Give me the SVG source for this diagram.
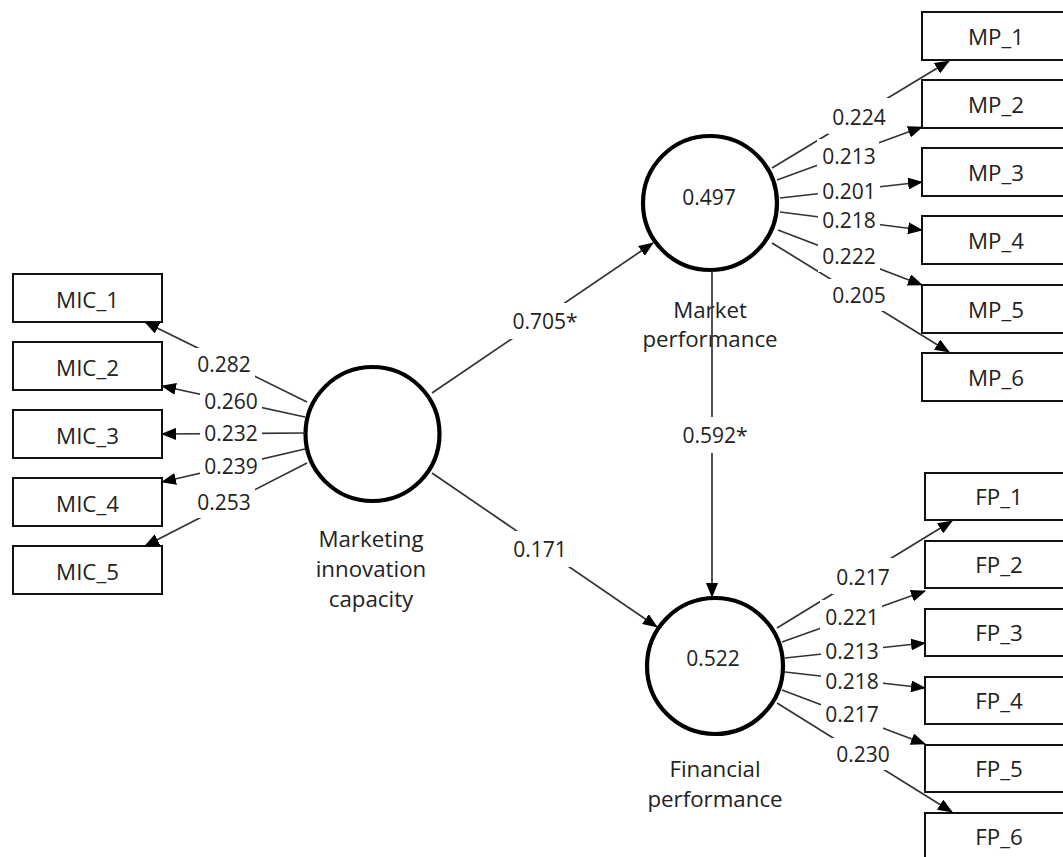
<svg xmlns="http://www.w3.org/2000/svg" width="1063" height="857" viewBox="0 0 1063 857">
<style>
.bg{fill:#fff}
.box{fill:#fff;stroke:#111;stroke-width:2}
.lv{fill:#fff;stroke:#000;stroke-width:4.2}
.t{font-family:"Open Sans","Noto Sans","DejaVu Sans",sans-serif;font-size:21px;fill:#222;text-anchor:middle}
.n{font-size:22.3px}
.c{stroke:#333;stroke-width:1.7;fill:none;marker-end:url(#ah)}
.lb{fill:#fff}
</style>
<defs>
<marker id="ah" markerWidth="15" markerHeight="12" refX="14" refY="6" orient="auto" markerUnits="userSpaceOnUse">
<path d="M0,0 L15,6 L0,12 z" fill="#000"/>
</marker>
</defs>
<rect class="bg" x="0" y="0" width="1063" height="857"/>

<g id="MIC_1"><rect class="box" x="13" y="274" width="149" height="48"/><text class="t n" x="87.5" y="307.5">MIC_1</text></g>
<g id="MIC_2"><rect class="box" x="13" y="342" width="149" height="48"/><text class="t n" x="87.5" y="375.5">MIC_2</text></g>
<g id="MIC_3"><rect class="box" x="13" y="410" width="149" height="48"/><text class="t n" x="87.5" y="443.5">MIC_3</text></g>
<g id="MIC_4"><rect class="box" x="13" y="478" width="149" height="48"/><text class="t n" x="87.5" y="511.5">MIC_4</text></g>
<g id="MIC_5"><rect class="box" x="13" y="546" width="149" height="48"/><text class="t n" x="87.5" y="579.5">MIC_5</text></g>

<g id="MP_1"><rect class="box" x="922" y="12" width="149" height="48"/><text class="t n" x="996" y="45">MP_1</text></g>
<g id="MP_2"><rect class="box" x="922" y="80" width="149" height="48"/><text class="t n" x="996" y="113">MP_2</text></g>
<g id="MP_3"><rect class="box" x="922" y="148" width="149" height="48"/><text class="t n" x="996" y="181">MP_3</text></g>
<g id="MP_4"><rect class="box" x="922" y="216" width="149" height="48"/><text class="t n" x="996" y="249">MP_4</text></g>
<g id="MP_5"><rect class="box" x="922" y="285" width="149" height="48"/><text class="t n" x="996" y="318">MP_5</text></g>
<g id="MP_6"><rect class="box" x="922" y="353" width="149" height="48"/><text class="t n" x="996" y="386">MP_6</text></g>

<g id="FP_1"><rect class="box" x="925" y="473" width="149" height="47"/><text class="t n" x="999" y="505">FP_1</text></g>
<g id="FP_2"><rect class="box" x="925" y="541" width="149" height="47"/><text class="t n" x="999" y="573">FP_2</text></g>
<g id="FP_3"><rect class="box" x="925" y="609" width="149" height="47"/><text class="t n" x="999" y="641">FP_3</text></g>
<g id="FP_4"><rect class="box" x="925" y="677" width="149" height="47"/><text class="t n" x="999" y="709">FP_4</text></g>
<g id="FP_5"><rect class="box" x="925" y="745" width="149" height="47"/><text class="t n" x="999" y="777">FP_5</text></g>
<g id="FP_6"><rect class="box" x="925" y="813" width="149" height="47"/><text class="t n" x="999" y="845">FP_6</text></g>

<g id="MIC">
<circle class="lv" cx="372.5" cy="434" r="67"/>
<text class="t n" x="371" y="547">Marketing</text>
<text class="t n" x="371" y="577">innovation</text>
<text class="t n" x="371" y="607">capacity</text>
</g>
<g id="MP">
<circle class="lv" cx="710" cy="203" r="67"/>
<text class="t" x="709" y="205">0.497</text>
<text class="t n" x="710" y="318">Market</text>
<text class="t n" x="710" y="347">performance</text>
</g>
<g id="FP">
<circle class="lv" cx="715" cy="666" r="68"/>
<text class="t" x="713" y="666">0.522</text>
<text class="t n" x="715" y="777">Financial</text>
<text class="t n" x="715" y="807">performance</text>
</g>

<g id="connectors">
<line class="c" x1="307" y1="402" x2="145" y2="322"/>
<line class="c" x1="305" y1="417" x2="162" y2="386"/>
<line class="c" x1="305" y1="433" x2="162" y2="434"/>
<line class="c" x1="305" y1="449" x2="162" y2="482"/>
<line class="c" x1="307" y1="463" x2="145" y2="546"/>

<line class="c" x1="772" y1="168" x2="949" y2="61"/>
<line class="c" x1="777" y1="180" x2="922" y2="127"/>
<line class="c" x1="780" y1="198" x2="922" y2="182"/>
<line class="c" x1="780" y1="212" x2="922" y2="230"/>
<line class="c" x1="778" y1="230" x2="922" y2="285"/>
<line class="c" x1="772" y1="243" x2="949" y2="352"/>

<line class="c" x1="777" y1="628" x2="952" y2="521"/>
<line class="c" x1="782" y1="642" x2="925" y2="591"/>
<line class="c" x1="785" y1="658" x2="925" y2="643"/>
<line class="c" x1="785" y1="672" x2="925" y2="688"/>
<line class="c" x1="782" y1="690" x2="925" y2="744"/>
<line class="c" x1="777" y1="703" x2="952" y2="812"/>

<line class="c" x1="432" y1="393" x2="653" y2="243"/>
<line class="c" x1="432" y1="473" x2="657" y2="627"/>
<line class="c" x1="712" y1="271" x2="712" y2="597"/>

<g id="labels">
<rect class="lb" x="193" y="348" width="62" height="32"/><text class="t" x="224" y="371.5">0.282</text>
<rect class="lb" x="200" y="385" width="62" height="32"/><text class="t" x="231" y="408.5">0.260</text>
<rect class="lb" x="200" y="417" width="62" height="32"/><text class="t" x="231" y="440.5">0.232</text>
<rect class="lb" x="200" y="451" width="62" height="32"/><text class="t" x="231" y="474">0.239</text>
<rect class="lb" x="193" y="486" width="62" height="32"/><text class="t" x="224" y="509.5">0.253</text>

<rect class="lb" x="828" y="98" width="62" height="36"/><text class="t" x="859" y="125">0.224</text>
<rect class="lb" x="817" y="139" width="62" height="33"/><text class="t" x="849" y="163.5">0.213</text>
<rect class="lb" x="818" y="175" width="62" height="32"/><text class="t" x="849" y="198.5">0.201</text>
<rect class="lb" x="818" y="205" width="62" height="32"/><text class="t" x="849" y="228">0.218</text>
<rect class="lb" x="818" y="240" width="62" height="32"/><text class="t" x="849" y="263.5">0.222</text>
<rect class="lb" x="828" y="279" width="62" height="32"/><text class="t" x="859" y="302.5">0.205</text>

<rect class="lb" x="832" y="558" width="62" height="36"/><text class="t" x="863" y="585">0.217</text>
<rect class="lb" x="820" y="600" width="62" height="33"/><text class="t" x="852" y="625">0.221</text>
<rect class="lb" x="821" y="635" width="62" height="32"/><text class="t" x="852" y="658.5">0.213</text>
<rect class="lb" x="821" y="665" width="62" height="32"/><text class="t" x="852" y="688.5">0.218</text>
<rect class="lb" x="821" y="698" width="62" height="32"/><text class="t" x="852" y="721.5">0.217</text>
<rect class="lb" x="832" y="738" width="62" height="32"/><text class="t" x="863" y="762">0.230</text>

<rect class="lb" x="509" y="303" width="72" height="36"/><text class="t" x="545" y="328.5">0.705*</text>
<rect class="lb" x="679" y="417" width="72" height="36"/><text class="t" x="715" y="442.5">0.592*</text>
<rect class="lb" x="509" y="531" width="62" height="36"/><text class="t" x="540" y="556.5">0.171</text>
</g>
</g>
</svg>
